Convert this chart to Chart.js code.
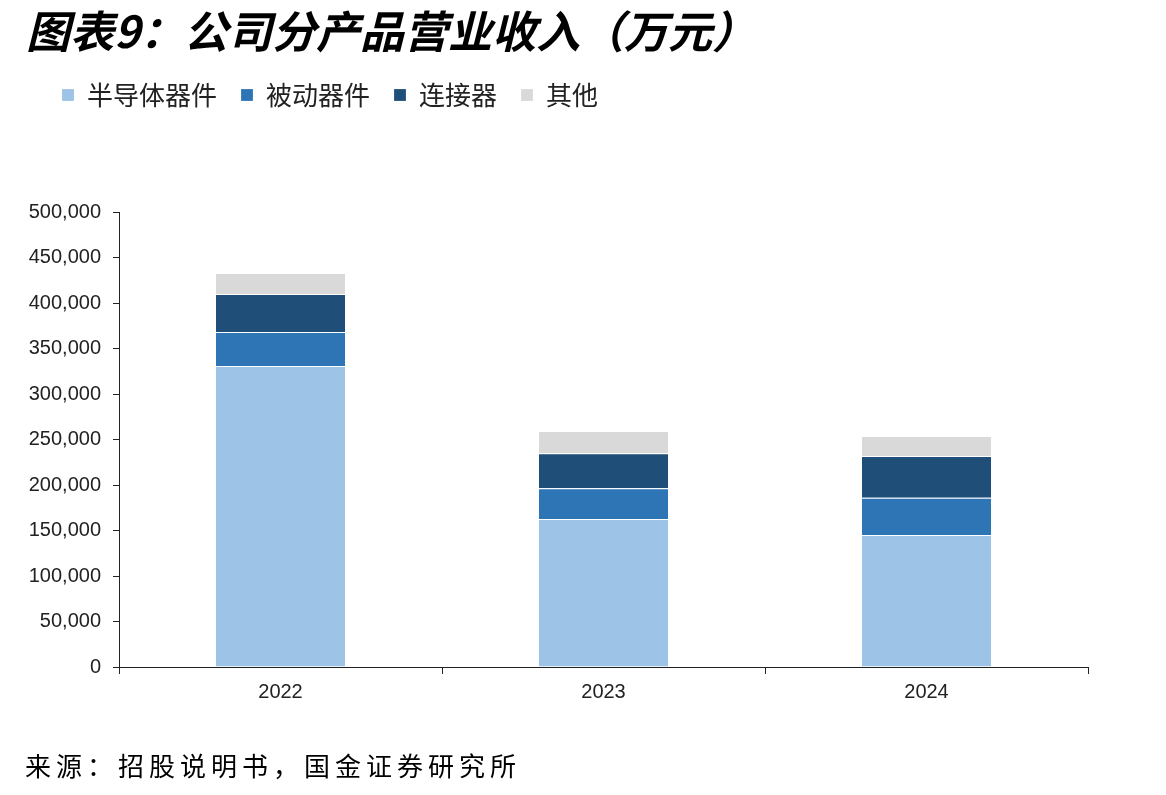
<!DOCTYPE html>
<html>
<head>
<meta charset="utf-8">
<script src="https://cdn.jsdelivr.net/npm/chart.js@4.4.1/dist/chart.umd.min.js"></script>
<style>
  html, body { margin: 0; padding: 0; background: #fff; }
  body { width: 1166px; height: 795px; position: relative; overflow: hidden; }
  #title {
    position: absolute; left: 26px; top: -3px;
    font: italic bold 44px "Noto Sans CJK SC", sans-serif;
    color: #000; white-space: nowrap;
  }
  #source {
    position: absolute; left: 25px; top: 746px;
    font: 26px "Noto Sans CJK SC", sans-serif;
    letter-spacing: 5px;
    color: #000; white-space: nowrap;
  }
  #wrap { position: absolute; left: 0; top: 0; width: 1166px; height: 795px; }
</style>
</head>
<body>
<div id="wrap"><canvas id="revChart"></canvas></div>
<div id="title">图表9：公司分产品营业收入（万元）</div>
<div id="source">来源：招股说明书，国金证券研究所</div>
<script>
// 年份
const years = ["2022", "2023", "2024"]
// 各产品收入（万元）
const semiconductor = [330800, 162700, 145100]
const passive = [37400, 33700, 41000]
const connector = [41700, 38500, 45800]
const others = [23100, 24500, 22000]
// 纵轴刻度
const yTicks = [0, 50000, 100000, 150000, 200000, 250000, 300000, 350000, 400000, 450000, 500000]

;(() => {
  const ctx = document.getElementById("revChart")
  const seg = (label, data, color) => ({
    label: label,
    data: data,
    backgroundColor: color,
    borderColor: "rgba(255,255,255,0.8)",
    borderWidth: { top: 1 },
    borderSkipped: "bottom",
    categoryPercentage: 1,
    barPercentage: 0.4,
  })

  // 图例与绘图区之间留出空白，并把图例右移
  const legendGap = {
    id: "legendGap",
    beforeInit(chart) {
      const fit = chart.legend.fit
      chart.legend.fit = function () {
        fit.bind(chart.legend)()
        this.height += 94
      }
    },
    afterLayout(chart) {
      chart.legend.left += 38
      chart.legend.right += 38
    },
  }

  new Chart(ctx, {
    type: "bar",
    data: {
      labels: years,
      datasets: [
        seg("半导体器件", semiconductor, "#9DC3E6"),
        seg("被动器件", passive, "#2E75B6"),
        seg("连接器", connector, "#1F4E79"),
        seg("其他", others, "#D9D9D9"),
      ],
    },
    plugins: [legendGap],
    options: {
      responsive: true,
      maintainAspectRatio: false,
      animation: false,
      layout: { padding: { left: 0, right: 78, top: 58, bottom: 88 } },
      plugins: {
        legend: {
          position: "top",
          align: "start",
          labels: {
            boxWidth: 12,
            boxHeight: 12,
            padding: 24,
            color: "#222",
            font: { family: "'Noto Sans CJK SC', sans-serif", size: 26 },
          },
        },
        tooltip: { enabled: false },
      },
      scales: {
        x: {
          stacked: true,
          afterFit: (scale) => { scale.height = 40 },
          border: { display: true, color: "#222", width: 1 },
          grid: { display: true, drawOnChartArea: false, drawTicks: true, tickLength: 7, color: "#222" },
          ticks: {
            color: "#222",
            padding: 6,
            font: { family: "'Liberation Sans', Arial, sans-serif", size: 20 },
          },
        },
        y: {
          stacked: true,
          min: 0,
          max: 500000,
          afterFit: (scale) => { scale.width = 119 },
          afterBuildTicks: (scale) => { scale.ticks = yTicks.map((v) => ({ value: v })) },
          border: { display: true, color: "#222", width: 1 },
          grid: { display: true, drawOnChartArea: false, drawTicks: true, tickLength: 6, color: "#222" },
          ticks: {
            color: "#222",
            padding: 12,
            font: { family: "'Liberation Sans', Arial, sans-serif", size: 20 },
            callback: (v) => v.toLocaleString("en-US"),
          },
        },
      },
    },
  })
})()
</script>
</body>
</html>
